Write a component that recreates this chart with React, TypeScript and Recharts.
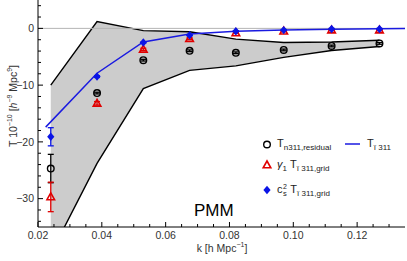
import {
  Area,
  ComposedChart,
  ErrorBar,
  Line,
  ReferenceLine,
  Scatter,
  XAxis,
  YAxis,
  ZAxis,
} from "recharts";

const kValues = [0.024, 0.0385, 0.053, 0.0675, 0.082, 0.097, 0.112, 0.127];

const bandUpper = [-10, 1.2, -0.4, -0.6, -1.9, -2.5, -2.4, -2.1];
const bandLower = [-39.7, -23.8, -10.6, -7.4, -6.6, -5.1, -3.9, -3.2];

const residual = [-24.7, -11.4, -5.6, -3.95, -4.3, -3.8, -3.1, -2.65];
const residualErr = [2.5, 0.15, 0.15, 0.15, 0.15, 0.15, 0.15, 0.15];

const gammaGrid = [-29.7, -13.2, -3.7, -1.8, -0.8, -0.5, -0.3, -0.3];
const gammaErr = [2.6, 0.3, 0.2, 0.15, 0.1, 0.1, 0.1, 0.1];

const csGrid = [-19.1, -8.5, -2.5, -1.2, -0.5, -0.3, -0.1, -0.1];
const csErr = [1.6, 0.15, 0.1, 0.1, 0.1, 0.1, 0.1, 0.1];

const theoryK = [0.0224, 0.0385, 0.053, 0.0675, 0.082, 0.097, 0.112, 0.127, 0.142];
const theory = [-17.4, -7.9, -2.4, -1.0, -0.5, -0.3, -0.15, -0.05, 0];

const xTicks = [
  0.02, 0.025, 0.03, 0.035, 0.04, 0.045, 0.05, 0.055, 0.06, 0.065, 0.07,
  0.075, 0.08, 0.085, 0.09, 0.095, 0.1, 0.105, 0.11, 0.115, 0.12, 0.125,
  0.13,
];
const xMajor = ["0.02", "0.04", "0.06", "0.08", "0.10", "0.12"];

const yTicks = [
  -34, -32, -30, -28, -26, -24, -22, -20, -18, -16, -14, -12, -10, -8, -6, -4,
  -2, 0, 2, 4,
];
const yMajor = [-30, -20, -10, 0];

const band = kValues.map((k, i) => ({
  k,
  range: [bandLower[i], bandUpper[i]],
}));
const points = (vals: number[], errs: number[]) =>
  kValues.map((k, i) => ({ k, v: vals[i], err: errs[i] }));
const theoryData = theoryK.map((k, i) => ({ k, v: theory[i] }));

const FONT = "'Liberation Sans', Arial, sans-serif";
const LABEL = "#333";

const isXMajor = (v: number) =>
  xMajor.includes(v.toFixed(2)) && Math.abs(v * 100 - Math.round(v * 100)) < 1e-6;

const BottomTick = (props: any) => {
  const { x, y, payload } = props;
  const major = isXMajor(payload.value);
  return (
    <g>
      <line x1={x} x2={x} y1={y} y2={y - (major ? 5 : 3)} stroke="#000" />
      {major && (
        <text x={x} y={y + 11.5} textAnchor="middle" fontSize={10.5} fill={LABEL} fontFamily={FONT}>
          {payload.value.toFixed(2)}
        </text>
      )}
    </g>
  );
};

const TopTick = (props: any) => {
  const { x, y, payload } = props;
  const major = isXMajor(payload.value);
  return <line x1={x} x2={x} y1={y} y2={y + (major ? 5 : 3)} stroke="#000" />;
};

const LeftTick = (props: any) => {
  const { x, y, payload } = props;
  const major = yMajor.includes(payload.value);
  return (
    <g>
      <line x1={x} x2={x + (major ? 5 : 3)} y1={y} y2={y} stroke="#000" />
      {major && (
        <text x={x - 4} y={y + 3.8} textAnchor="end" fontSize={10.5} fill={LABEL} fontFamily={FONT}>
          {payload.value === 0 ? "0" : `\u2212${Math.abs(payload.value)}`}
        </text>
      )}
    </g>
  );
};

const RightTick = (props: any) => {
  const { x, y, payload } = props;
  const major = yMajor.includes(payload.value);
  return <line x1={x} x2={x - (major ? 5 : 3)} y1={y} y2={y} stroke="#000" />;
};

const Circle = (props: any) => (
  <circle cx={props.cx} cy={props.cy} r={3.3} fill="none" stroke="#000" strokeWidth={1.4} />
);

const Triangle = (props: any) => {
  const { cx, cy } = props;
  return (
    <polygon
      points={`${cx},${cy - 4} ${cx - 3.8},${cy + 2.8} ${cx + 3.8},${cy + 2.8}`}
      fill="none"
      stroke="#e00000"
      strokeWidth={1.6}
    />
  );
};

const Diamond = (props: any) => {
  const { cx, cy } = props;
  return (
    <polygon
      points={`${cx},${cy - 4.2} ${cx + 3.6},${cy} ${cx},${cy + 4.2} ${cx - 3.6},${cy}`}
      fill="#0a14e6"
    />
  );
};

const sub = { fontSize: 8, verticalAlign: "-3px" } as const;
const sup = { fontSize: 7, verticalAlign: "5px" } as const;
const legendText = {
  position: "absolute",
  fontSize: 11,
  color: "#222",
  whiteSpace: "nowrap",
  lineHeight: "13px",
} as const;

function App() {
  return (
    <div style={{ position: "absolute", left: 0, top: 0, width: 407, height: 261, fontFamily: FONT }}>
      <ComposedChart
        width={407}
        height={261}
        data={band}
        margin={{ top: 0, right: 2, bottom: 0, left: 8 }}
      >
        <XAxis
          xAxisId="b"
          dataKey="k"
          type="number"
          domain={[0.02, 0.135]}
          allowDataOverflow
          ticks={xTicks}
          interval={0}
          height={34}
          tickSize={0}
          tickMargin={0}
          tickLine={false}
          tick={<BottomTick />}
          axisLine={{ stroke: "#000" }}
        />
        <XAxis
          xAxisId="t"
          orientation="top"
          dataKey="k"
          type="number"
          domain={[0.02, 0.135]}
          allowDataOverflow
          ticks={xTicks}
          interval={0}
          height={0}
          tickSize={0}
          tickMargin={0}
          tickLine={false}
          tick={<TopTick />}
          axisLine={{ stroke: "#000" }}
        />
        <YAxis
          yAxisId="l"
          type="number"
          domain={[-35, 5]}
          allowDataOverflow
          ticks={yTicks}
          interval={0}
          width={30}
          tickSize={0}
          tickMargin={0}
          tickLine={false}
          tick={<LeftTick />}
          axisLine={{ stroke: "#000" }}
        />
        <YAxis
          yAxisId="r"
          orientation="right"
          type="number"
          domain={[-35, 5]}
          allowDataOverflow
          ticks={yTicks}
          interval={0}
          width={0}
          tickSize={0}
          tickMargin={0}
          tickLine={false}
          tick={<RightTick />}
          axisLine={{ stroke: "#000" }}
        />
        <ZAxis range={[0.01, 0.01]} />
        <ReferenceLine xAxisId="b" yAxisId="l" y={0} stroke="#b4b4b4" strokeWidth={1} />
        <Area
          xAxisId="b"
          yAxisId="l"
          type="linear"
          dataKey="range"
          fill="#cccccc"
          fillOpacity={1}
          stroke="#000"
          strokeWidth={1.4}
          isAnimationActive={false}
        />
        <Line
          xAxisId="b"
          yAxisId="l"
          data={theoryData}
          type="linear"
          dataKey="v"
          stroke="#1a1ae0"
          strokeWidth={1.5}
          dot={false}
          isAnimationActive={false}
        />
        <Scatter
          xAxisId="b"
          yAxisId="l"
          data={points(residual, residualErr)}
          dataKey="v"
          shape={<Circle />}
          isAnimationActive={false}
        >
          <ErrorBar dataKey="err" direction="y" width={3} stroke="#000" strokeWidth={1.3} isAnimationActive={false} />
        </Scatter>
        <Scatter
          xAxisId="b"
          yAxisId="l"
          data={points(gammaGrid, gammaErr)}
          dataKey="v"
          shape={<Triangle />}
          isAnimationActive={false}
        >
          <ErrorBar dataKey="err" direction="y" width={3} stroke="#e00000" strokeWidth={1.3} isAnimationActive={false} />
        </Scatter>
        <Scatter
          xAxisId="b"
          yAxisId="l"
          data={points(csGrid, csErr)}
          dataKey="v"
          shape={<Diamond />}
          isAnimationActive={false}
        >
          <ErrorBar dataKey="err" direction="y" width={3} stroke="#0a14e6" strokeWidth={1.3} isAnimationActive={false} />
        </Scatter>
      </ComposedChart>

      {/* y label */}
      <div
        style={{
          position: "absolute",
          left: 12,
          top: 106,
          transform: "translate(-50%, -50%) rotate(-90deg)",
          whiteSpace: "nowrap",
          fontSize: 10.5,
          color: LABEL,
        }}
      >
        T 10<span style={sup}>{"\u221210"}</span> [<i>h</i>
        <span style={sup}>{"\u22129"}</span> Mpc<span style={sup}>9</span>]
      </div>

      {/* x label */}
      <div
        style={{
          position: "absolute",
          left: 222,
          top: 246.5,
          transform: "translate(-50%, -50%)",
          whiteSpace: "nowrap",
          fontSize: 10.5,
          color: LABEL,
        }}
      >
        k [h Mpc<span style={sup}>{"\u22121"}</span>]
      </div>

      {/* PMM */}
      <div style={{ position: "absolute", left: 194, top: 201, fontSize: 17, color: "#000" }}>PMM</div>

      {/* legend */}
      <svg style={{ position: "absolute", left: 0, top: 0 }} width={407} height={261} pointerEvents="none">
        <Circle cx={267} cy={144.5} />
        <Triangle cx={267} cy={165} />
        <Diamond cx={267} cy={190} />
        <line x1={345} x2={360} y1={144} y2={144} stroke="#1a1ae0" strokeWidth={1.5} />
      </svg>
      <div style={{ ...legendText, left: 277, top: 137 }}>
        T<span style={sub}>n311,residual</span>
      </div>
      <div style={{ ...legendText, left: 277, top: 158 }}>
        <i>{"\u03b3"}</i>
        <span style={sub}>1</span> T<span style={sub}>{"\u00ef 311,grid"}</span>
      </div>
      <div style={{ ...legendText, left: 277, top: 183 }}>
        c
        <span style={{ position: "relative", display: "inline-block", width: 5 }}>
          <span style={{ position: "absolute", left: 0.5, top: -10, fontSize: 7, lineHeight: "7px" }}>2</span>
          <span style={{ position: "absolute", left: 0.5, top: -3, fontSize: 7.5, lineHeight: "7px" }}>s</span>
        </span>{" "}
        T<span style={sub}>{"\u00ef 311,grid"}</span>
      </div>
      <div style={{ ...legendText, left: 367, top: 137 }}>
        T<span style={sub}>{"\u00ef 311"}</span>
      </div>
    </div>
  );
}

export default App;
